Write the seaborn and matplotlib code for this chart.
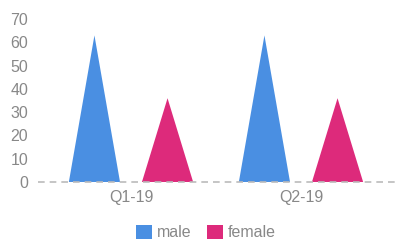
import pandas as pd
import matplotlib
matplotlib.use("Agg")
import matplotlib.pyplot as plt
from matplotlib.patches import Polygon, Patch
import seaborn as sns

# data
quarters = ["Q1-19", "Q2-19"]
male = [63, 63]
female = [36, 36]
series = ["male", "female"]
colors = {"male": "#4A8FE2", "female": "#DD2A7B"}

df = pd.DataFrame({
    "quarter": quarters * 2,
    "value": male + female,
    "sex": ["male"] * len(quarters) + ["female"] * len(quarters),
})

sns.set_style("white")
plt.rcParams["font.family"] = ["Liberation Sans", "DejaVu Sans"]

fig = plt.figure(figsize=(4, 2.42), dpi=100)
ax = fig.add_axes([0.095, 0.248, 0.8925, 0.673])

sns.barplot(data=df, x="quarter", y="value", hue="sex", hue_order=series,
            palette=colors, width=0.86, gap=0.3, legend=False, ax=ax,
            saturation=1)

# turn the bars into triangles
bars = list(ax.patches)
for b in bars:
    x0 = b.get_x()
    w = b.get_width()
    h = b.get_height()
    tri = Polygon([[x0, 0], [x0 + w / 2, h], [x0 + w, 0]], closed=True,
                  facecolor=b.get_facecolor(), edgecolor="none", zorder=2)
    b.remove()
    ax.add_patch(tri)

ax.set_ylim(0, 70)
ax.set_xlim(-0.547, 1.553)
ax.set_yticks(range(0, 71, 10))
ax.axhline(0, color="#bbbbbb", linestyle=(0, (4, 3)), linewidth=1.2,
           zorder=3, clip_on=False)

for s in ax.spines.values():
    s.set_visible(False)
ax.tick_params(axis="both", length=0, labelsize=11.5, colors="#888888")
ax.tick_params(axis="y", pad=7)
ax.tick_params(axis="x", pad=6)
ax.set_xlabel("")
ax.set_ylabel("")

handles = [Patch(facecolor=colors[s], edgecolor="none", label=s) for s in series]
fig.legend(handles=handles, loc="center", bbox_to_anchor=(0.515, 0.04),
           ncol=2, frameon=False, handlelength=1.0, handleheight=1.0,
           handletextpad=0.3, columnspacing=1.0, fontsize=11.5,
           labelcolor="#888888")

fig.savefig("out.png", dpi=100)
